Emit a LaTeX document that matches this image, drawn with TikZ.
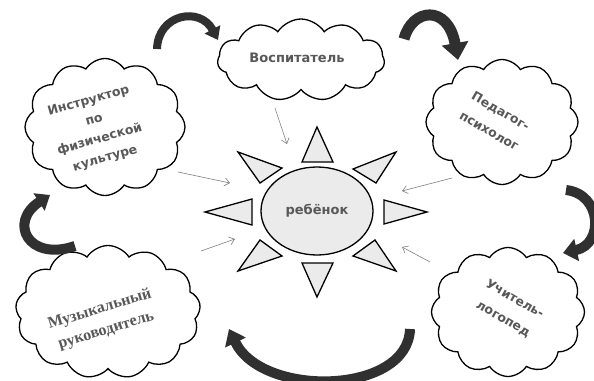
\documentclass[tikz,border=0pt]{standalone}
\usepackage{fontspec}
\setmainfont{DejaVu Sans}
\newfontfamily\serifbold{Liberation Serif}
\usetikzlibrary{shapes.symbols,shapes.geometric,arrows.meta,calc}
\definecolor{txtgray}{HTML}{585858}
\definecolor{raygray}{HTML}{EBEBEB}
\definecolor{bandgray}{HTML}{303030}
\begin{document}
\begin{tikzpicture}[x=1pt,y=-1pt,
  cloudbox/.style={cloud, cloud puffs=#1, cloud puff arc=115, draw=black, line width=1.3pt, fill=white, inner sep=0pt},
  lbl/.style={text=txtgray, align=center, font=\bfseries\fontsize{12.5}{20}\selectfont},
  ray/.style={draw=black, line width=1.3pt, fill=raygray, line join=miter},
  thinarrow/.style={draw=gray, line width=0.6pt, -{Straight Barb[length=5pt,width=8pt]}},
  band/.style={draw=bandgray, line width=#1, line cap=butt},
]
\useasboundingbox (0,0) rectangle (594,380);
\fill[white] (0,0) rectangle (594,380);

% clouds
\node[cloudbox=11, minimum width=167pt, minimum height=82pt, aspect=2] (vosp) at (301,60) {};
\node[cloudbox=12, minimum width=152pt, minimum height=125pt, aspect=1.2] (ped) at (502,122) {};
\node[cloudbox=12, minimum width=160pt, minimum height=137pt, aspect=1.15] (instr) at (105,127) {};
\node[cloudbox=13, minimum width=185pt, minimum height=133pt, aspect=1.4] (muz) at (108,312) {};
\node[cloudbox=12, minimum width=153pt, minimum height=129pt, aspect=1.2] (log) at (508,312) {};

% labels
\node[lbl, font=\bfseries\fontsize{13}{15}\selectfont] (tvosp) at (297,58) {Воспитатель};
\node[lbl, rotate=-30, font=\bfseries\fontsize{12.5}{23}\selectfont] (tped) at (495,121) {Педагог-\\психолог};
\node[lbl, rotate=16] (tinstr) at (97,130) {Инструктор\\по\\физической\\культуре};
\node[text=txtgray, align=center, rotate=17, font=\serifbold\bfseries\fontsize{16}{22}\selectfont] (tmuz) at (103,320) {Музыкальный\\руководитель};
\node[lbl, rotate=-30, font=\bfseries\fontsize{12.5}{23}\selectfont] (tlog) at (509,309) {Учитель-\\логопед};

% sun
\draw[ray] (317,127) -- (333,162) -- (302,162) -- cycle;
\draw[ray] (317,297) -- (333,263) -- (302,263) -- cycle;
\draw[ray] (205,212) -- (252,199) -- (252,225) -- cycle;
\draw[ray] (427,212) -- (384,200) -- (384,224) -- cycle;
\draw[ray] (238,152) -- (282,168) -- (260,183) -- cycle;
\draw[ray] (396,152) -- (353,169) -- (376,183) -- cycle;
\draw[ray] (238,271) -- (260,240) -- (282,256) -- cycle;
\draw[ray] (396,271) -- (375,240) -- (353,256) -- cycle;
\node[ellipse, draw=black, line width=1.3pt, fill=raygray, minimum width=112pt, minimum height=88pt, inner sep=0pt] (child) at (317,211) {};
\node[text=txtgray, font=\bfseries\fontsize{13}{15}\selectfont] (tchild) at (317,211) {ребёнок};

% thin arrows
\coordinate (a1s) at (275,108); \coordinate (a1e) at (287,144);
\coordinate (a2s) at (178,172); \coordinate (a2e) at (230,183);
\coordinate (a3s) at (201,251); \coordinate (a3e) at (235,239);
\coordinate (a4s) at (452,178); \coordinate (a4e) at (402,191);
\coordinate (a5s) at (430,262); \coordinate (a5e) at (402,247);
\draw[thinarrow] (a1s) -- (a1e);
\draw[thinarrow] (a2s) -- (a2e);
\draw[thinarrow] (a3s) -- (a3e);
\draw[thinarrow] (a4s) -- (a4e);
\draw[thinarrow] (a5s) -- (a5e);

% big curved arrows
\coordinate (b1s) at (157,49); \coordinate (b1e) at (218,40);
\draw[band=8pt, -{Triangle[length=12pt,width=17pt]}] (b1s) .. controls (158,14) and (200,6) .. (b1e);
\coordinate (b2s) at (404,39); \coordinate (b2e) at (458,60);
\draw[band=11pt, -{Triangle[length=17pt,width=26pt]}] (b2s) .. controls (412,8) and (448,4) .. (b2e);
\coordinate (b3s) at (566,190); \coordinate (b3e) at (563,253);
\draw[band=10pt, -{Triangle[length=14pt,width=22pt]}] (b3s) .. controls (602,194) and (604,244) .. (b3e);
\coordinate (b4s) at (410,329); \coordinate (b4e) at (229,329);
\draw[band=10pt, -{Triangle[length=15pt,width=22pt]}] (b4s) .. controls (408,395) and (262,398) .. (b4e);
\coordinate (b5s) at (75,246); \coordinate (b5e) at (50,195);
\draw[band=10pt, -{Triangle[length=13pt,width=20pt]}] (b5s) .. controls (28,262) and (8,222) .. (b5e);
\end{tikzpicture}
\end{document}
